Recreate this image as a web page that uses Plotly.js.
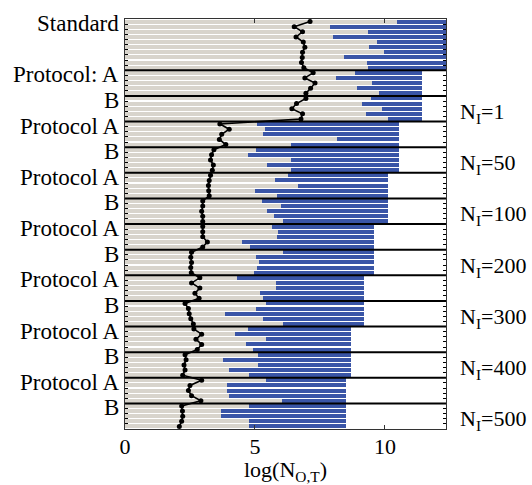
<!DOCTYPE html>
<html>
<head>
<meta charset="utf-8">
<script src="https://cdn.plot.ly/plotly-3.0.1.min.js"></script>
<style>html,body{margin:0;padding:0;background:#fff;}#chart{width:532px;height:485px;}</style>
</head>
<body>
<div id="chart"></div>
<script>
// Left labels, one per block (top to bottom)
const blockLabels = ['Standard', 'Protocol: A', 'B', 'Protocol A', 'B', 'Protocol A', 'B',
  'Protocol A', 'B', 'Protocol A', 'B', 'Protocol A', 'B', 'Protocol A', 'B'];
// Right labels, one per N_I group (A+B pair)
const groupLabels = ['N<sub>I</sub>=1', 'N<sub>I</sub>=50', 'N<sub>I</sub>=100', 'N<sub>I</sub>=200',
  'N<sub>I</sub>=300', 'N<sub>I</sub>=400', 'N<sub>I</sub>=500'];
// Right end of the blue bars per block, log(N_O,T)
const blockEnd = [12.6, 11.42, 11.42, 10.55, 10.55, 10.13, 10.13, 9.59, 9.59, 9.2, 9.2, 8.7, 8.7, 8.5, 8.5];
// End of the grey part (start of blue) per row, per block
const greyEnd = [
  [10.45, 7.88, 9.36, 8.01, 9.68, 9.40, 9.97, 8.42, 9.32, 9.36],
  [8.85, 8.12, 9.49, 8.91, 9.78],
  [9.45, 9.13, 9.90, 9.29, 10.10],
  [5.06, 5.38, 5.32, 8.14, 6.37],
  [5.04, 4.74, 6.37, 5.47, 6.37],
  [6.28, 5.77, 6.64, 5.00, 5.86],
  [5.26, 5.99, 5.47, 5.73, 6.09],
  [5.64, 5.90, 5.83, 4.49, 4.81],
  [6.09, 5.04, 5.17, 5.09, 4.96],
  [4.32, 5.81, 5.81, 5.19, 5.30],
  [5.42, 5.04, 3.85, 5.32, 6.09],
  [4.72, 4.23, 5.42, 4.65, 4.91],
  [5.13, 3.76, 5.10, 4.00, 4.77],
  [5.41, 3.94, 3.94, 4.00, 6.03],
  [4.77, 3.68, 3.68, 4.77, 4.77]
];
// Black dotted line values per row, per block
const dotVals = [
  [7.12, 6.51, 6.83, 6.58, 6.86, 6.92, 6.83, 6.82, 6.79, 6.88],
  [7.24, 6.92, 7.31, 7.14, 6.96],
  [6.96, 6.60, 6.42, 6.83, 6.77],
  [3.65, 4.01, 3.72, 3.63, 3.88],
  [3.42, 3.33, 3.29, 3.40, 3.36],
  [3.29, 3.24, 3.21, 3.22, 3.24],
  [2.99, 2.99, 2.95, 2.99, 2.99],
  [2.99, 2.99, 2.99, 3.17, 2.99],
  [2.56, 2.53, 2.56, 2.53, 2.55],
  [2.88, 2.56, 2.88, 2.69, 2.85],
  [2.31, 2.44, 2.47, 2.53, 2.63],
  [2.65, 2.95, 2.73, 2.95, 2.78],
  [2.31, 2.35, 2.27, 2.31, 2.22],
  [2.95, 2.50, 2.44, 2.56, 2.92],
  [2.18, 2.21, 2.22, 2.18, 2.09]
];

// Build flattened row arrays
const rowY = [], rowGrey = [], rowBlue = [], rowDot = [], blockStart = [];
let idx = 0;
greyEnd.forEach((blk, b) => {
  blockStart.push(idx);
  blk.forEach((g, i) => {
    rowY.push(idx);
    rowGrey.push(g);
    rowBlue.push(blockEnd[b] - g);
    rowDot.push(dotVals[b][i]);
    idx++;
  });
});
const nRows = idx;
const boundaries = blockStart.slice(1).map(s => s - 0.5);

const FONT = 'Liberation Serif';

const traces = [
  {type: 'bar', orientation: 'h', y: rowY, x: rowGrey, marker: {color: '#d8d4cc', line: {width: 0}},
   hoverinfo: 'skip', showlegend: false},
  {type: 'bar', orientation: 'h', y: rowY, x: rowBlue, marker: {color: '#3a55a7', line: {width: 0}},
   hoverinfo: 'skip', showlegend: false},
  {type: 'scatter', mode: 'lines+markers', y: rowY, x: rowDot,
   line: {color: '#000', width: 1.6}, marker: {color: '#000', size: 5},
   hoverinfo: 'skip', showlegend: false}
];

const shapes = boundaries.map(b => ({
  type: 'line', xref: 'paper', x0: 0, x1: 1, yref: 'y', y0: b, y1: b,
  line: {color: '#000', width: 2}
}));

const annotations = [];
blockLabels.forEach((t, i) => {
  annotations.push({xref: 'paper', x: 0, xanchor: 'right', xshift: -4, yref: 'y', y: blockStart[i] + 0.4,
    yanchor: 'middle', text: t, showarrow: false, font: {family: FONT, size: 23, color: '#000'}});
});
groupLabels.forEach((t, k) => {
  const center = blockStart[1 + 2 * k + 1] - 0.5;
  annotations.push({xref: 'paper', x: 1, xanchor: 'left', xshift: 12, yref: 'y', y: center + 3.3,
    yanchor: 'middle', text: t, showarrow: false, font: {family: FONT, size: 22, color: '#000'}});
});

const layout = {
  width: 532, height: 485,
  margin: {l: 125, r: 86, t: 19, b: 56},
  paper_bgcolor: '#fff', plot_bgcolor: '#fff',
  barmode: 'stack', bargap: 0.2,
  font: {family: FONT, size: 22, color: '#000'},
  xaxis: {range: [0, 12.35], tickvals: [0, 5, 10], ticktext: ['0', '5', '10'],
    ticks: 'inside', ticklen: 4, tickcolor: '#333', mirror: 'allticks', showline: true,
    linecolor: '#333', linewidth: 1, showgrid: false, zeroline: false, ticklabelstandoff: -2,
    tickfont: {family: FONT, size: 22, color: '#000'},
    title: {text: 'log(N<sub>O,T</sub>)', font: {family: FONT, size: 22, color: '#000'}, standoff: 6}},
  yaxis: {range: [nRows - 0.5, -0.5], tickvals: boundaries, showticklabels: false,
    ticks: 'inside', ticklen: 6, tickcolor: '#000', mirror: 'allticks', showline: true,
    linecolor: '#333', linewidth: 1, showgrid: false, zeroline: false,
    minor: {tick0: -0.5, dtick: 1, ticks: 'inside', ticklen: 3, tickcolor: '#000', showgrid: false}},
  shapes: shapes,
  annotations: annotations
};

Plotly.newPlot('chart', traces, layout, {displayModeBar: false, staticPlot: true});
</script>
</body>
</html>
